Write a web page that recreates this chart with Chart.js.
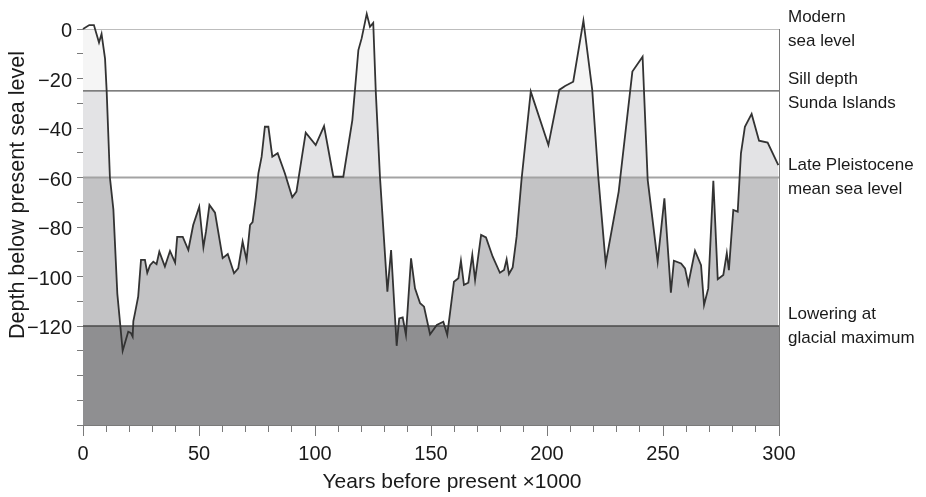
<!DOCTYPE html>
<html>
<head>
<meta charset="utf-8">
<script src="https://cdn.jsdelivr.net/npm/chart.js@4.4.1/dist/chart.umd.min.js"></script>
<style>
  html, body { margin: 0; padding: 0; background: #ffffff; }
  #wrap { width: 926px; height: 497px; }
</style>
</head>
<body>
<div id="wrap"><canvas id="c" width="926" height="497"></canvas></div>
<script>
// ---- data ----
const years = [0, 2.7, 4.7, 6.9, 8.0, 9.5, 10.2, 11.6, 13.1, 14.8, 17.1, 19.5, 20.6, 21.4, 21.7, 22.4, 23.8, 25, 26.7, 27.7,
  28.9, 30.3, 31.7, 32.9, 35.3, 37.5, 39.7, 40.6, 43, 45.4, 47.5, 50.1, 51.9, 53, 54.5, 56.9, 60.2, 62.4, 65.1, 66.9,
  68.8, 70.5, 72, 73.1, 74.5, 75.6, 77, 78.4, 79.9, 81.6, 83.9, 87, 90.2, 92, 96, 100.3, 103.9, 107.9, 112.2, 116.1,
  118.7, 120.1, 122.3, 123.7, 125.1, 126.2, 128, 131.2, 132.8, 135.2, 136.3, 137.8, 139.2, 141.4, 143.1, 145.3, 147, 149.6, 152.5, 155.3,
  157, 159.9, 161.8, 162.9, 164.2, 166.1, 167.8, 169, 171.6, 173.7, 176.6, 179.7, 181.5, 182.6, 183.6, 185.2, 186.9, 189, 193, 200.6,
  205.3, 207.8, 211.3, 215.7, 219.5, 222.1, 225.3, 230.9, 236.8, 241.2, 243.4, 247.7, 250.6, 253.4, 254.7, 257.8, 259.5, 260.9, 263.8, 266.4,
  267.7, 269.5, 271.7, 273.6, 276, 277.5, 278.4, 280.3, 282.2, 283.6, 285.3, 288.2, 291.4, 295.1, 299.7];
const depth = [0, 1.6, 1.6, -5.5, -2, -12, -25, -60, -73, -107, -130, -122.3, -122.8, -124.3, -118, -114.8, -108, -93.3, -93.3, -98.5,
  -95.4, -94, -95, -90, -96, -89.7, -94.4, -84, -84, -89.3, -79.2, -71.8, -88.2, -81.9, -71.1, -74.2, -92.6, -90.9, -98.7, -96.7,
  -85.9, -93.3, -79.2, -78, -68, -58.3, -51.6, -39.5, -39.5, -51.6, -50.2, -58.3, -68, -65.7, -41.9, -46.9, -39.2, -59.7, -59.7, -36.8,
  -8.5, -3.8, 6.1, 0.9, 2.5, -25.3, -59.7, -106.1, -89.3, -128, -116.9, -116.5, -123.6, -92.7, -104.8, -110.8, -112.2, -123.4, -119.6, -118.3,
  -123.6, -102.1, -100.7, -93.6, -103.4, -102.5, -91.3, -101.4, -83.2, -84.2, -92, -98.5, -97.4, -93.1, -99, -96.3, -83.9, -61, -25.3, -46.9,
  -24.6, -23, -21.3, 3.4, -24.6, -59.7, -94.7, -65.7, -17.2, -11.2, -61, -94, -68.4, -106.5, -93.6, -94.7, -96.7, -103, -89.6, -95.4,
  -111.5, -104.8, -61.3, -101.1, -99.4, -90.6, -97.4, -73.1, -73.8, -50.2, -39.5, -34.3, -45.1, -45.9, -55];

const referenceLevels = [0, -25, -60, -120];
const referenceLabels = [
  ["Modern", "sea level"],
  ["Sill depth", "Sunda Islands"],
  ["Late Pleistocene", "mean sea level"],
  ["Lowering at", "glacial maximum"]
];
const yTickValues = [0, -10, -20, -30, -40, -50, -60, -70, -80, -90, -100, -110, -120, -130, -140, -150, -160];
const yLabelledTicks = [0, -20, -40, -60, -80, -100, -120];
const xMajorTicks = [0, 50, 100, 150, 200, 250, 300];
const xMin = 0, xMax = 300, yMin = -160, yMax = 0;
const xTitle = "Years before present \u00d71000";
const yTitle = "Depth below present sea level";

// ---- styles ----
const FONT = "'Liberation Sans', Arial, Helvetica, sans-serif";
const TEXT = '#1a1a1a';
const AXIS = '#7a7a7a';
const bandColors = ['#f5f5f5', '#e3e3e5', '#c3c3c5', '#8f8f91'];
const refLineColors = ['#bdbdbd', '#555555', '#a3a3a3', '#4a4a4a'];
const refLineWidths = [2, 1.3, 2, 1.3];

const curve = years.map((x, i) => ({ x: x, y: depth[i] }));

function bandGradient(context) {
  const chart = context.chart;
  const ys = chart.scales && chart.scales.y;
  if (!chart.chartArea || !ys) return bandColors[2];
  const top = ys.getPixelForValue(20);
  const bottom = ys.getPixelForValue(yMin);
  const g = chart.ctx.createLinearGradient(0, top, 0, bottom);
  const f = v => Math.min(1, Math.max(0, (ys.getPixelForValue(v) - top) / (bottom - top)));
  const edges = [referenceLevels[1], referenceLevels[2], referenceLevels[3]];
  g.addColorStop(0, bandColors[0]);
  for (let i = 0; i < edges.length; i++) {
    const p = f(edges[i]);
    g.addColorStop(p, bandColors[i]);
    g.addColorStop(p, bandColors[i + 1]);
  }
  g.addColorStop(1, bandColors[3]);
  return g;
}

const datasets = [
  {
    label: 'Sea level',
    data: curve,
    borderColor: '#333333',
    borderWidth: 1.8,
    pointRadius: 0,
    tension: 0,
    fill: 'start',
    backgroundColor: bandGradient,
    clip: false
  },
  {
    label: 'Glacial maximum band',
    data: [{ x: xMin, y: referenceLevels[3] }, { x: xMax, y: referenceLevels[3] }],
    borderColor: refLineColors[3],
    borderWidth: refLineWidths[3],
    pointRadius: 0,
    fill: 'start',
    backgroundColor: bandColors[3]
  }
];
for (let i = 0; i < 3; i++) {
  datasets.push({
    label: referenceLabels[i].join(' '),
    data: [{ x: xMin, y: referenceLevels[i] }, { x: xMax, y: referenceLevels[i] }],
    borderColor: refLineColors[i],
    borderWidth: refLineWidths[i],
    pointRadius: 0,
    fill: false
  });
}

const annotate = {
  id: 'annotate',
  afterDraw(chart) {
    const ctx = chart.ctx;
    const xs = chart.scales.x, ys = chart.scales.y;
    const area = chart.chartArea;
    ctx.save();
    // longer major ticks on the x axis
    ctx.strokeStyle = AXIS;
    ctx.lineWidth = 1;
    xMajorTicks.forEach(v => {
      const px = Math.round(xs.getPixelForValue(v)) + 0.5;
      ctx.beginPath();
      ctx.moveTo(px, area.bottom);
      ctx.lineTo(px, area.bottom + 11);
      ctx.stroke();
    });
    // right-hand labels
    ctx.fillStyle = TEXT;
    ctx.font = '17px ' + FONT;
    ctx.textAlign = 'left';
    ctx.textBaseline = 'middle';
    referenceLevels.forEach((lv, i) => {
      const py = ys.getPixelForValue(lv);
      ctx.fillText(referenceLabels[i][0], area.right + 9, py - 12);
      ctx.fillText(referenceLabels[i][1], area.right + 9, py + 12);
    });
    // axis titles
    ctx.textAlign = 'center';
    ctx.font = '21px ' + FONT;
    ctx.fillText(xTitle, 452, 482);
    ctx.font = '21.5px ' + FONT;
    ctx.translate(18, 195);
    ctx.rotate(-Math.PI / 2);
    ctx.fillText(yTitle, 0, 0);
    ctx.restore();
  }
};

new Chart(document.getElementById('c'), {
  type: 'line',
  data: { datasets: datasets },
  plugins: [annotate],
  options: {
    responsive: false,
    animation: false,
    events: [],
    layout: { padding: { top: 29, right: 147, left: 0, bottom: 0 } },
    plugins: {
      legend: { display: false },
      tooltip: { enabled: false },
      filler: { drawTime: 'beforeDatasetsDraw' }
    },
    scales: {
      x: {
        type: 'linear',
        min: xMin, max: xMax,
        afterFit(scale) { scale.height = 72; },
        border: { display: true, color: AXIS, width: 1 },
        grid: { drawOnChartArea: false, drawTicks: true, tickLength: 7, color: AXIS },
        ticks: {
          stepSize: 10,
          autoSkip: false,
          maxRotation: 0,
          padding: 10,
          color: TEXT,
          font: { family: FONT, size: 20 },
          callback: v => (xMajorTicks.includes(v) ? String(v) : '')
        }
      },
      y: {
        type: 'linear',
        position: 'left',
        min: yMin, max: yMax,
        afterFit(scale) { scale.width = 83; },
        afterBuildTicks(scale) { scale.ticks = yTickValues.map(v => ({ value: v })); },
        border: { display: true, color: AXIS, width: 1 },
        grid: { drawOnChartArea: false, drawTicks: true, tickLength: 6, color: AXIS },
        ticks: {
          autoSkip: false,
          padding: 5,
          labelOffset: 2.5,
          color: TEXT,
          font: { family: FONT, size: 20 },
          callback: v => (yLabelledTicks.includes(v) ? (v === 0 ? '0' : '\u2212' + Math.abs(v)) : '')
        }
      },
      y2: {
        type: 'linear',
        position: 'right',
        min: yMin, max: yMax,
        afterFit(scale) { scale.width = 0; },
        border: { display: true, color: AXIS, width: 1 },
        grid: { display: false, drawOnChartArea: false, drawTicks: false },
        ticks: { display: false }
      }
    }
  }
});
</script>
</body>
</html>
